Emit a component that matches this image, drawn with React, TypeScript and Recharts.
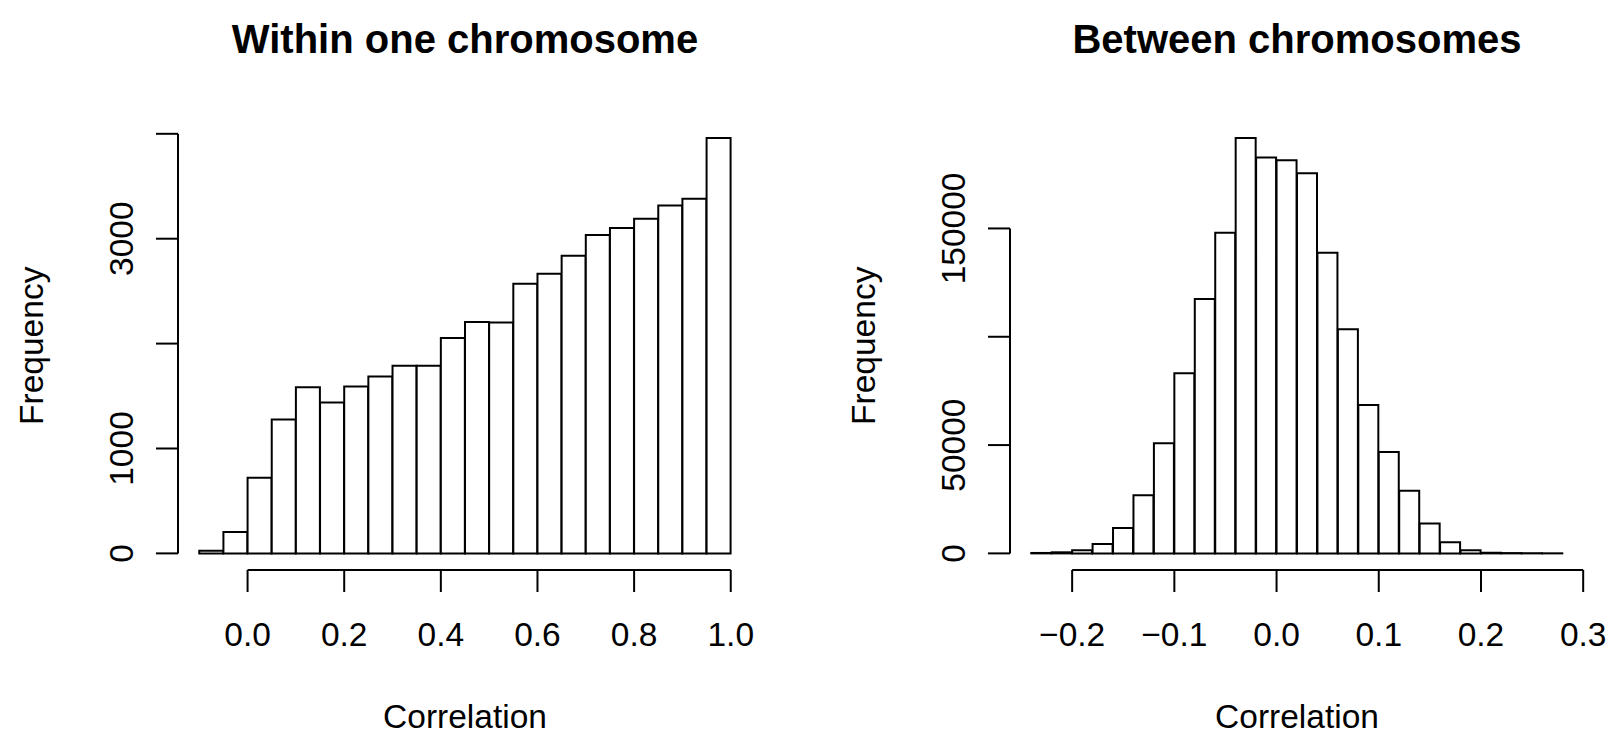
import { BarChart, Bar, XAxis, YAxis, ReferenceLine } from "recharts";

const FONT = "'Liberation Sans', Arial, Helvetica, sans-serif";

// left panel: correlations within one chromosome (bins of 0.05)
const withinEdges = [
  -0.1, -0.05, 0, 0.05, 0.1, 0.15, 0.2, 0.25, 0.3, 0.35, 0.4, 0.45, 0.5, 0.55, 0.6, 0.65, 0.7, 0.75, 0.8,
  0.85, 0.9, 0.95, 1.0,
];
const withinCounts = [
  25, 203, 720, 1276, 1584, 1438, 1590, 1686, 1790, 1790, 2054, 2206, 2200, 2571, 2667, 2838, 3035, 3102,
  3190, 3317, 3381, 3959,
];
const withinXTicks = [0, 0.2, 0.4, 0.6, 0.8, 1.0];
const withinYTicks = [0, 1000, 2000, 3000, 4000];
const withinYLabels = [0, 1000, 3000];

// right panel: correlations between chromosomes (bins of 0.02)
const betweenEdges = [
  -0.24, -0.22, -0.2, -0.18, -0.16, -0.14, -0.12, -0.1, -0.08, -0.06, -0.04, -0.02, 0, 0.02, 0.04, 0.06,
  0.08, 0.1, 0.12, 0.14, 0.16, 0.18, 0.2, 0.22, 0.24, 0.26, 0.28,
];
const betweenCounts = [
  200, 500, 1500, 4300, 11700, 26800, 50800, 83100, 117400, 148000, 191700, 182800, 181500, 175500, 138800,
  103500, 68500, 46800, 28900, 13800, 5100, 1500, 300, 150, 80, 30,
];
const betweenXTicks = [-0.2, -0.1, 0, 0.1, 0.2, 0.3];
const betweenYTicks = [0, 50000, 100000, 150000];
const betweenYLabels = [0, 50000, 150000];

const W = 784;
const H = 752;
const PLOT_LEFT = 178;
const PLOT_TOP = 121.5;
const PLOT_BOTTOM = 570;
const PLOT_WIDTH = 574;
const Y_AXIS_W = 100;
const X_AXIS_H = 60;
const TICK = 22;

function fmtX(v: number) {
  return v.toFixed(1).replace("-", "\u2212");
}

function XTick(props: any) {
  const { x, y, payload } = props;
  return (
    <text x={x} y={y + 53.5} textAnchor="middle" fontFamily={FONT} fontSize={33.5} fill="#000">
      {fmtX(payload.value)}
    </text>
  );
}

function makeYTick(labels: number[]) {
  return (props: any) => {
    const { x, y, payload } = props;
    if (!labels.includes(payload.value)) return <g />;
    const bx = x - 23;
    return (
      <text
        x={bx}
        y={y}
        transform={`rotate(-90 ${bx} ${y})`}
        textAnchor="middle"
        fontFamily={FONT}
        fontSize={33.5}
        fill="#000"
      >
        {String(payload.value)}
      </text>
    );
  };
}

interface HistProps {
  title: string;
  edges: number[];
  counts: number[];
  xTicks: number[];
  yTicks: number[];
  yLabels: number[];
  left: number;
}

function Histogram({ title, edges, counts, xTicks, yTicks, yLabels, left }: HistProps) {
  const lo = edges[0];
  const hi = edges[edges.length - 1];
  const xMin = lo - 0.04 * (hi - lo);
  const xMax = hi + 0.04 * (hi - lo);
  const yMax = Math.max(...counts);
  const yMin = -0.04 * yMax;
  const pad = ((lo - xMin) / (xMax - xMin)) * PLOT_WIDTH;
  const data = counts.map((c, i) => ({
    bin: String(edges[i]),
    mid: (edges[i] + edges[i + 1]) / 2,
    count: c,
  }));
  const cx = PLOT_LEFT + PLOT_WIDTH / 2;
  const cy = (PLOT_TOP + PLOT_BOTTOM) / 2;

  return (
    <div style={{ position: "absolute", left, top: 0, width: W, height: H }}>
      <BarChart
        width={W}
        height={H}
        data={data}
        margin={{
          top: PLOT_TOP,
          left: PLOT_LEFT - Y_AXIS_W,
          right: W - PLOT_LEFT - PLOT_WIDTH,
          bottom: H - PLOT_BOTTOM - X_AXIS_H,
        }}
        barCategoryGap={0}
        barGap={0}
      >
        <XAxis dataKey="bin" type="category" hide height={0} padding={{ left: pad, right: pad }} />
        <XAxis
          xAxisId="num"
          dataKey="mid"
          type="number"
          domain={[xMin, xMax]}
          allowDataOverflow
          ticks={xTicks}
          interval={0}
          height={X_AXIS_H}
          axisLine={false}
          tickSize={TICK}
          tickMargin={0}
          tickLine={{ stroke: "#000", strokeWidth: 2 }}
          tick={<XTick />}
        />
        <YAxis
          type="number"
          domain={[yMin, yMax * 1.04]}
          allowDataOverflow
          ticks={yTicks}
          interval={0}
          width={Y_AXIS_W}
          axisLine={false}
          tickSize={TICK}
          tickMargin={0}
          tickLine={{ stroke: "#000", strokeWidth: 2 }}
          tick={makeYTick(yLabels)}
        />
        <Bar dataKey="count" fill="#fff" stroke="#000" strokeWidth={2} isAnimationActive={false} />
        <ReferenceLine
          xAxisId="num"
          segment={[
            { x: xMin, y: yTicks[0] },
            { x: xMin, y: yTicks[yTicks.length - 1] },
          ]}
          stroke="#000"
          strokeWidth={2}
          ifOverflow="visible"
        />
        <ReferenceLine
          xAxisId="num"
          segment={[
            { x: xTicks[0], y: yMin },
            { x: xTicks[xTicks.length - 1], y: yMin },
          ]}
          stroke="#000"
          strokeWidth={2}
          ifOverflow="visible"
        />
      </BarChart>
      <svg
        width={W}
        height={H}
        style={{ position: "absolute", left: 0, top: 0, pointerEvents: "none" }}
      >
        <text x={cx} y={52.7} textAnchor="middle" fontFamily={FONT} fontSize={40} fontWeight="bold" fill="#000">
          {title}
        </text>
        <text x={cx} y={728} textAnchor="middle" fontFamily={FONT} fontSize={33.5} fill="#000">
          Correlation
        </text>
        <text
          x={PLOT_LEFT - 135}
          y={cy}
          transform={`rotate(-90 ${PLOT_LEFT - 135} ${cy})`}
          textAnchor="middle"
          fontFamily={FONT}
          fontSize={33.5}
          fill="#000"
        >
          Frequency
        </text>
      </svg>
    </div>
  );
}

export default function App() {
  return (
    <div style={{ position: "relative", width: 1615, height: 752, overflow: "hidden", background: "#fff" }}>
      <style>{"body{margin:0}"}</style>
      <Histogram
        title="Within one chromosome"
        edges={withinEdges}
        counts={withinCounts}
        xTicks={withinXTicks}
        yTicks={withinYTicks}
        yLabels={withinYLabels}
        left={0}
      />
      <Histogram
        title="Between chromosomes"
        edges={betweenEdges}
        counts={betweenCounts}
        xTicks={betweenXTicks}
        yTicks={betweenYTicks}
        yLabels={betweenYLabels}
        left={831.6}
      />
    </div>
  );
}
